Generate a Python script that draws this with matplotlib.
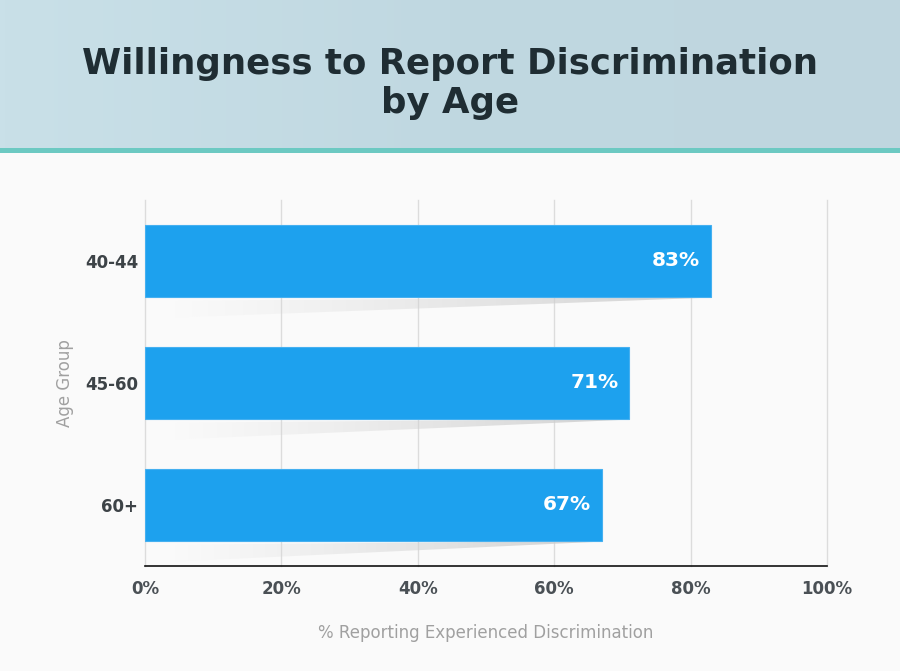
import matplotlib
matplotlib.use("Agg")
import matplotlib.pyplot as plt
import numpy as np
from matplotlib.patches import Rectangle, Polygon

categories = ["40-44", "45-60", "60+"]
values = [83, 71, 67]
xticks = [0, 20, 40, 60, 80, 100]
xtick_labels = ["0%", "20%", "40%", "60%", "80%", "100%"]
title = "Willingness to Report Discrimination\nby Age"
xlabel = "% Reporting Experienced Discrimination"
ylabel = "Age Group"

plt.rcParams['font.family'] = ['DejaVu Sans']

fig = plt.figure(figsize=(9, 6.71), dpi=100)
fig.patch.set_facecolor("#fafafa")

# header band with subtle gradient
hax = fig.add_axes([0, 0.7794, 1, 0.2206])
hax.set_axis_off()
hg = np.linspace(0, 1, 256).reshape(1, -1)
hcmap = matplotlib.colors.LinearSegmentedColormap.from_list(
    "hd", ["#c9e0e8", "#c0d8e1", "#bfd6df"])
hax.imshow(hg, extent=(0, 1, 0, 1), cmap=hcmap, aspect="auto", interpolation="bilinear")
hax.set_xlim(0, 1); hax.set_ylim(0, 1)
fig.patches.append(Rectangle((0, 0.772), 1, 0.0075, transform=fig.transFigure,
                             facecolor="#6cc9c2", edgecolor="none", zorder=1))
fig.text(0.5, 0.876, title, ha="center", va="center", fontsize=25.6, fontweight="bold",
         color="#1f2d33", linespacing=1.2, zorder=5)

ax = fig.add_axes([0.1611, 0.1565, 0.7578, 0.5455])
ax.set_facecolor("#fafafa")
y = np.arange(len(categories))
bar_h = 0.59
ax.barh(y, values, height=bar_h, color="#1da1ee", edgecolor="#45b0f0", linewidth=0.8, zorder=3)

# soft shadows under bars
grad = np.linspace(0, 1, 256).reshape(1, -1)
cmap = matplotlib.colors.LinearSegmentedColormap.from_list(
    "sh", [(0.85, 0.85, 0.85, 0.0), (0.80, 0.80, 0.80, 0.9)])
for yi, v in zip(y, values):
    top = yi + bar_h / 2
    poly = Polygon([(v, top), (4, top + 0.03), (4, top + 0.17), (v, top + 0.005)],
                   closed=True, facecolor="none", edgecolor="none")
    ax.add_patch(poly)
    im = ax.imshow(grad, extent=(4, v, top + 0.18, top), cmap=cmap, aspect="auto",
                   zorder=2, interpolation="bilinear")
    im.set_clip_path(poly)
    ax.text(v - 1.6, yi, f"{v}%", ha="right", va="center", color="white",
            fontsize=14.5, fontweight="bold", zorder=4)

ax.set_xlim(0, 100)
ax.set_ylim(2.5, -0.5)
ax.set_xticks(xticks)
ax.set_xticklabels(xtick_labels)
ax.set_yticks(y)
ax.set_yticklabels(categories)
for xt in xticks:
    ax.axvline(xt, color="#dcdcdc", linewidth=1, zorder=0, clip_on=False)
for s in ["top", "right", "left"]:
    ax.spines[s].set_visible(False)
ax.spines["bottom"].set_color("#111111")
ax.spines["bottom"].set_linewidth(1.2)
ax.spines["bottom"].set_zorder(5)
ax.tick_params(length=0)
ax.tick_params(axis="x", pad=10)
ax.tick_params(axis="y", pad=5)
for lab in ax.get_xticklabels():
    lab.set_fontweight("bold"); lab.set_color("#4a5055"); lab.set_fontsize(12)
for lab in ax.get_yticklabels():
    lab.set_fontweight("bold"); lab.set_color("#3d4347"); lab.set_fontsize(12)
ax.set_xlabel(xlabel, color="#a0a0a0", fontsize=12, labelpad=19)
ax.set_ylabel(ylabel, color="#a0a0a0", fontsize=12, labelpad=8)

fig.savefig("out.png", dpi=100, facecolor=fig.get_facecolor())
